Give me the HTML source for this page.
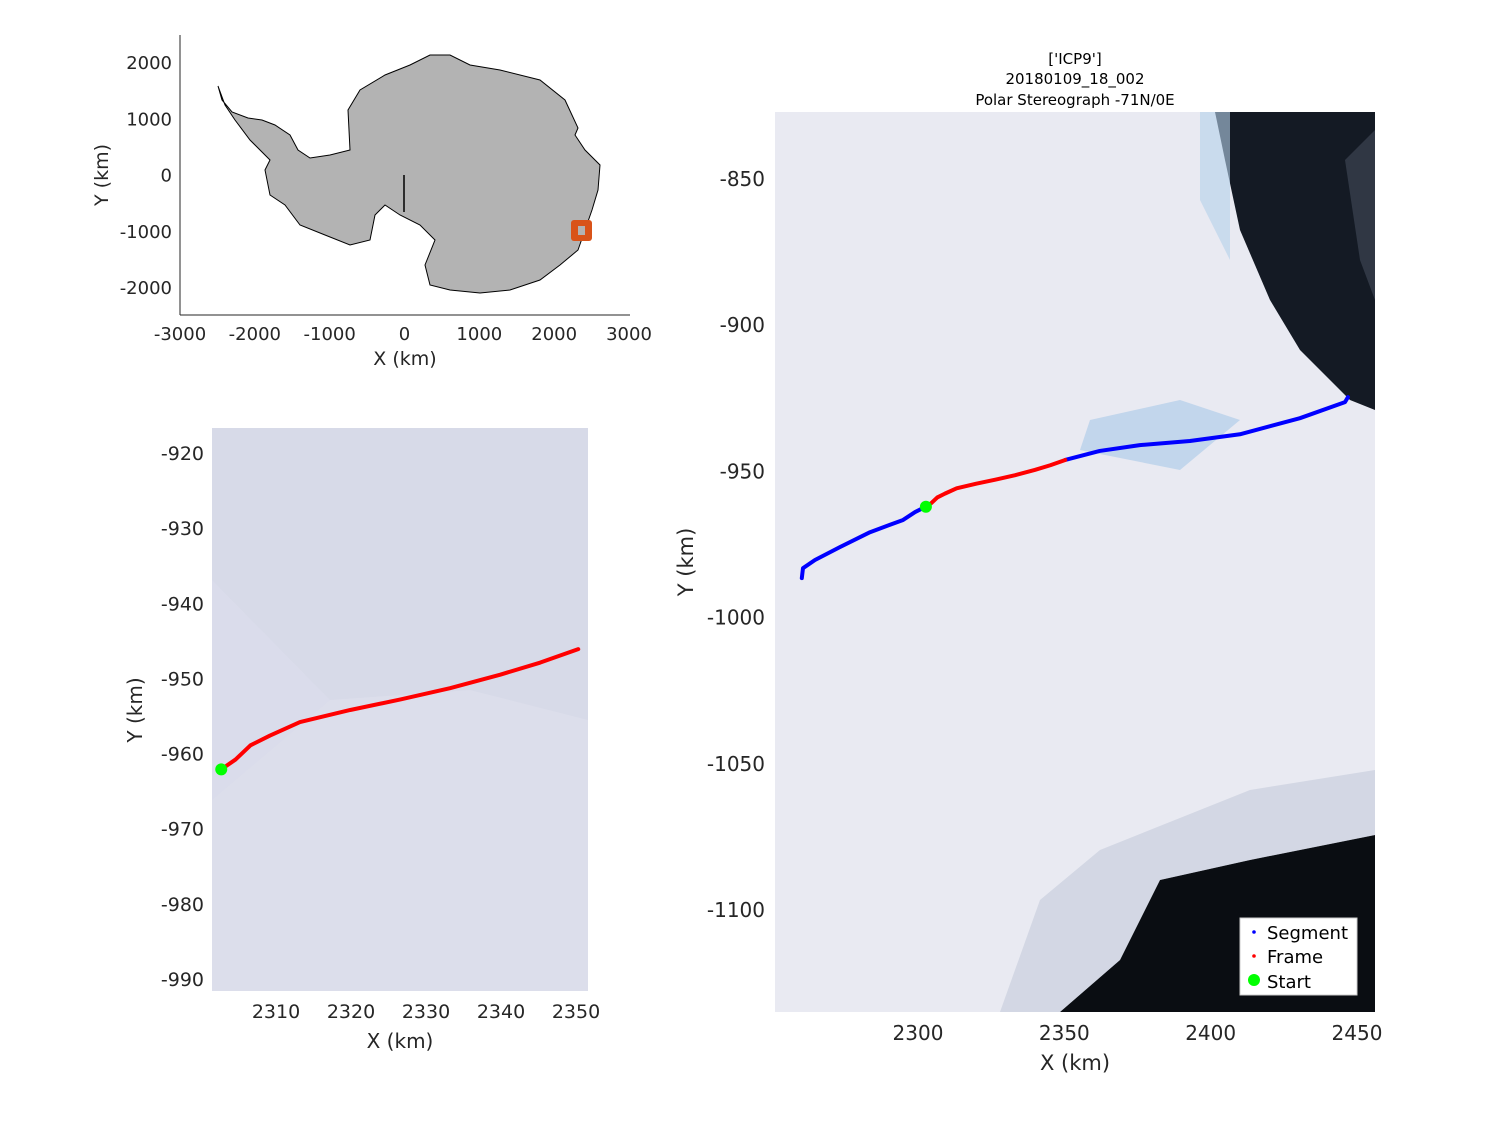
<!DOCTYPE html>
<html><head><meta charset="utf-8"><style>
body{margin:0;background:#fff;}
svg{font-family:"DejaVu Sans","Liberation Sans",sans-serif;}
</style></head><body>
<svg id="fig" width="1500" height="1125" viewBox="0 0 1500 1125" xmlns="http://www.w3.org/2000/svg">
<rect width="1500" height="1125" fill="#fff"/>
<g>
<path fill="#b3b3b3" stroke="#000" stroke-width="1" d="M218,86 L222,100 232,112 248,118 262,120 275,125 290,135 298,150 310,158 330,155 350,150 348,110 360,90 385,75 410,65 430,55 450,55 470,65 500,70 540,80 565,100 578,128 575,135 585,150 600,165 598,190 592,210 585,230 578,250 560,265 540,280 510,290 480,293 450,290 430,285 425,265 435,240 420,225 400,215 385,205 375,215 370,240 350,245 325,235 300,225 285,205 270,195 265,170 270,160 250,140 235,120 225,105 Z"/>
<line x1="404" y1="175" x2="404" y2="212" stroke="#000" stroke-width="1.5"/>
<rect x="571" y="220" width="21" height="21" rx="3" fill="#d95319"/>
<rect x="578" y="226" width="7" height="9" fill="#b3b3b3"/>
<line x1="180" y1="35" x2="180" y2="315" stroke="#262626"/>
<line x1="180" y1="315" x2="630" y2="315" stroke="#262626"/>
<g id="mapTicks" font-size="18" fill="#262626"></g>
<text x="405" y="365" font-size="19" text-anchor="middle" fill="#262626">X (km)</text>
<text transform="translate(108,175) rotate(-90)" font-size="19" text-anchor="middle" fill="#262626">Y (km)</text>
</g>
<g>
<rect x="212" y="428" width="376" height="563" fill="#dcdeeb"/>
<polygon points="212,428 588,428 588,720 470,690 330,700 212,580" fill="#d6d8e7" opacity="0.8"/>
<polygon points="212,580 330,700 212,800" fill="#d8dbeb" opacity="0.6"/>
<g id="frameMarks"></g>
<g id="frameTicks" font-size="19" fill="#262626"></g>
<text x="400" y="1048" font-size="20" text-anchor="middle" fill="#262626">X (km)</text>
<text transform="translate(142,710) rotate(-90)" font-size="20" text-anchor="middle" fill="#262626">Y (km)</text>
</g>
<g>
<text x="1075" y="64" font-size="15" text-anchor="middle">['ICP9']</text>
<text x="1075" y="84" font-size="15" text-anchor="middle">20180109_18_002</text>
<text x="1075" y="105" font-size="15" text-anchor="middle">Polar Stereograph -71N/0E</text>
<rect x="775" y="112" width="600" height="900" fill="#e9eaf2"/>
<polygon points="1215,112 1375,112 1375,410 1350,400 1300,350 1270,300 1240,230 1225,160" fill="#141a24"/>
<polygon points="1375,130 1345,160 1360,260 1375,300" fill="#3c4452" opacity="0.7"/>
<polygon points="1060,1012 1120,960 1160,880 1250,860 1375,835 1375,1012" fill="#0a0d12"/>
<polygon points="1040,900 1100,850 1250,790 1375,770 1375,835 1250,860 1160,880 1120,960 1060,1012 1000,1012" fill="#b8c0d2" opacity="0.45"/>
<polygon points="1090,420 1180,400 1240,420 1180,470 1080,450" fill="#a8c8e8" opacity="0.6"/>
<polygon points="1200,112 1230,112 1230,260 1200,200" fill="#b4d0ea" opacity="0.6"/>
<g id="segMarks"></g>
<g id="segTicks" font-size="20" fill="#262626"></g>
<text x="1075" y="1070" font-size="21" text-anchor="middle" fill="#262626">X (km)</text>
<text transform="translate(693,562) rotate(-90)" font-size="21" text-anchor="middle" fill="#262626">Y (km)</text>
<g>
<rect x="1240" y="918" width="117" height="77" fill="#fff" stroke="#ccc"/>
<circle cx="1254" cy="932" r="1.8" fill="#0000ff"/>
<text x="1267" y="939" font-size="18">Segment</text>
<circle cx="1254" cy="956" r="1.8" fill="#ff0000"/>
<text x="1267" y="963" font-size="18">Frame</text>
<circle cx="1254" cy="980" r="6" fill="#00ff00"/>
<text x="1267" y="988" font-size="18">Start</text>
</g>
</g>
</svg>
<script>
const mapXTicks=[-3000,-2000,-1000,0,1000,2000,3000];
const mapYTicks=[2000,1000,0,-1000,-2000];
const frameXTicks=[2310,2320,2330,2340,2350];
const frameYTicks=[-920,-930,-940,-950,-960,-970,-980,-990];
const segXTicks=[2300,2350,2400,2450];
const segYTicks=[-850,-900,-950,-1000,-1050,-1100];
const segBeforeX=[2260.3,2260.7,2264.8,2273.3,2283.6,2294.9,2299.0,2303.0];
const segBeforeY=[-986.5,-983.1,-980.3,-975.9,-970.8,-966.6,-963.9,-961.9];
const frameX=[2302.7,2304.6,2306.6,2309.2,2313.2,2319.9,2326.6,2333.2,2339.9,2345.2,2350.3];
const frameY=[-962.1,-960.8,-958.9,-957.6,-955.8,-954.2,-952.8,-951.3,-949.5,-947.9,-946.1];
const segAfterX=[2350.3,2362.1,2375.8,2392.9,2410.0,2430.5,2445.9,2446.9];
const segAfterY=[-946.1,-943.0,-941.0,-939.6,-937.3,-931.8,-926.3,-924.6];
const startX=[2302.7];
const startY=[-962.1];
const NS='http://www.w3.org/2000/svg';
function lin(d0,d1,r0,r1){return v=>r0+(v-d0)*(r1-r0)/(d1-d0);}
const mx=lin(-3000,3000,180,629), my=lin(2000,-2000,63,288);
const fx=lin(2310,2350,276,576), fy=lin(-920,-990,453,979);
const sx=lin(2300,2450,918,1357), sy=lin(-850,-1100,179,910);
function txt(g,x,y,s,anchor,name){const t=document.createElementNS(NS,'text');t.setAttribute('x',x);t.setAttribute('y',y);t.setAttribute('text-anchor',anchor);t.textContent=s;


g.appendChild(t);}
const mt=document.getElementById('mapTicks');
mapXTicks.forEach(v=>txt(mt,mx(v),340,v,'middle','map-x-tick'));
mapYTicks.forEach(v=>txt(mt,172,my(v)+6,v,'end','map-y-tick'));
const ft=document.getElementById('frameTicks');
frameXTicks.forEach(v=>txt(ft,fx(v),1018,v,'middle','frame-x-tick'));
frameYTicks.forEach(v=>txt(ft,204,fy(v)+7,v,'end','frame-y-tick'));
const st=document.getElementById('segTicks');
segXTicks.forEach(v=>txt(st,sx(v),1040,v,'middle','segment-x-tick'));
segYTicks.forEach(v=>txt(st,765,sy(v)+7,v,'end','segment-y-tick'));
function line(g,X,Y,ax,ay,col,w,name){const p=document.createElementNS(NS,'polyline');p.setAttribute('points',X.map((x,i)=>ax(x)+','+ay(Y[i])).join(' '));p.setAttribute('fill','none');p.setAttribute('stroke',col);p.setAttribute('stroke-width',w);p.setAttribute('stroke-linecap','round');p.setAttribute('stroke-linejoin','round');


g.appendChild(p);}
function dot(g,X,Y,ax,ay,r){X.forEach((x,i)=>{const c=document.createElementNS(NS,'circle');c.setAttribute('cx',ax(x));c.setAttribute('cy',ay(Y[i]));c.setAttribute('r',r);c.setAttribute('fill','#00ff00');


g.appendChild(c);});}
const fm=document.getElementById('frameMarks');
line(fm,frameX,frameY,fx,fy,'#ff0000',4,'frame-line');
dot(fm,startX,startY,fx,fy,6);
const sm=document.getElementById('segMarks');
line(sm,segBeforeX,segBeforeY,sx,sy,'#0000ff',4,'segment-line-before');
line(sm,segAfterX,segAfterY,sx,sy,'#0000ff',4,'segment-line-after');
line(sm,frameX,frameY,sx,sy,'#ff0000',4,'frame-line-overview');
dot(sm,startX,startY,sx,sy,6);
</script>
</body></html>
